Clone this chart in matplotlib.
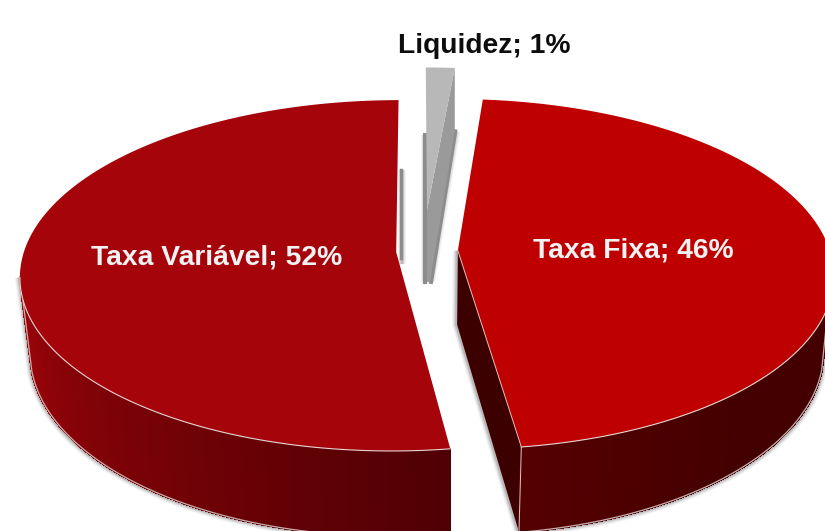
import numpy as np
import matplotlib
matplotlib.use("Agg")
import matplotlib.pyplot as plt
from matplotlib.colors import to_rgb

labels = ["Taxa Fixa", "Taxa Variável", "Liquidez"]
shown_pct = [46, 52, 1]
values = [46.4, 52.1, 1.45]
explode = [0.083, 0.083, 0.245]
start_angle = 5.0
top_colors = ["#bf0000", "#a5040a", "#b8b8b8"]

# perspective of the disc, in pixels
cx, cy = 427, 251
R, Rv, k = 372, 172, 0.134
depth = 74
shrink = 0.975

plt.rcParams["font.family"] = ["Liberation Sans", "DejaVu Sans"]


def project(u, v):
    w = 1 + k * v
    return cx + R * u / w, cy - Rv * v / w


def bottom(u, v):
    x, y = project(u, v)
    return cx + (x - cx) * shrink, y + depth / (1 + k * v)


def arc(t, du, dv):
    return du + np.sin(np.radians(t)), dv + np.cos(np.radians(t))


def soft(ax, xs, ys, z):
    for lw, al in [(6, 0.05), (4.5, 0.07), (3, 0.1), (1.6, 0.16)]:
        ax.plot(xs, ys, color="#303030", lw=lw, alpha=al, zorder=z, solid_capstyle="butt")


def shade(t, c0, c1):
    c0, c1 = np.array(to_rgb(c0)), np.array(to_rgb(c1))
    return tuple(c0 + (c1 - c0) * t)


def quads(ax, rx, ry, brx, bry, cols, z):
    for i in range(len(rx) - 1):
        ax.fill([rx[i], rx[i + 1], brx[i + 1], brx[i]],
                [ry[i], ry[i + 1], bry[i + 1], bry[i]],
                color=cols[i], lw=1, ec=cols[i], antialiased=False, zorder=z)


def side(ax, t, t_end, du, dv, cols, z):
    # outer wall of a slice, closed off with a straight silhouette edge
    rx, ry = project(*arc(t, du, dv))
    brx, bry = bottom(*arc(t, du, dv))
    tx, ty = project(*arc(np.linspace(t[-1], t_end, 10), du, dv))
    sx = np.r_[brx, tx[-1]]
    sy = np.r_[bry, ty[-1]]
    soft(ax, sx + np.sign(sx[-1] - cx), sy + 1, z - 1)
    quads(ax, rx, ry, brx, bry, cols, z)
    ax.fill(np.r_[tx, brx[-1]], np.r_[ty, bry[-1]], color=cols[-1], lw=0.5, ec=cols[-1], zorder=z)
    ax.plot(sx, sy, color="#c8b0b0", lw=0.9, zorder=z + 0.5)


fig = plt.figure(figsize=(8.25, 5.31), dpi=100)
ax = fig.add_axes([0, 0, 1, 1])
ax.set_xlim(0, 825)
ax.set_ylim(531, 0)
ax.axis("off")

fracs = np.array(values) / sum(values) * 360
a0 = start_angle
spans = []
for f in fracs:
    spans.append((a0, a0 + f))
    a0 += f

offs = []
for (a1, a2), d in zip(spans, explode):
    m = np.radians((a1 + a2) / 2)
    offs.append((d * np.sin(m), d * np.cos(m)))
offs[2] = (0, explode[2])

# Liquidez, furthest back
a1, a2 = spans[2]
du, dv = offs[2]
t = np.linspace(a1, a2, 12)
ax_pts = project(du, dv)
bx, by = bottom(du, dv)
rx, ry = project(*arc(t, du, dv))
brx, bry = bottom(*arc(t, du, dv))
soft(ax, [bx - 2, bx - 2], [ry[0] + 68, by], 1)
soft(ax, [brx[-1] + 2, bx + 4], [bry[-1], by], 1)
ax.plot([bx - 2, bx - 2], [ry[0] + 68, by], color="#8c8c8c", lw=3, zorder=1.5)
ax.plot([brx[-1] + 1, bx + 4], [bry[-1], by], color="#8c8c8c", lw=3, zorder=1.5)
ax.fill([rx[-1], rx[-1], bx + 3, bx, ax_pts[0]],
        [ry[-1], bry[-1], by, by, ax_pts[1]], color="#9a9a9a", lw=0, zorder=2)
ax.fill(np.r_[ax_pts[0], rx], np.r_[ax_pts[1], ry], color=top_colors[2], lw=0, zorder=3)

# Taxa Variavel
a1, a2 = spans[1]
du, dv = offs[1]
ax0 = project(du, dv)
ex, ey = project(*arc(a2, du, dv))
soft(ax, [ex + 3, ex + 3], [ey + 70, ax0[1] + 12], 3)
ax.plot([ex + 2, ex + 2], [ey + 70, ax0[1] + 6], color="#8c8c8c", lw=2.5, zorder=3)
t = np.linspace(a1, 256, 120)
cols = [shade((x - a1) / (256 - a1), "#4f0004", "#9a0409") for x in t]
side(ax, t, 262, du, dv, cols, 5)
t = np.linspace(a1, a2, 240)
rx, ry = project(*arc(t, du, dv))
ax.fill(np.r_[ax0[0], rx], np.r_[ax0[1], ry], color=top_colors[1], lw=0, zorder=7)
n = t < 262
ax.plot(rx[n], ry[n], color="#e6d6d6", lw=0.8, zorder=8)

# Taxa Fixa
a1, a2 = spans[0]
du, dv = offs[0]
ax0 = project(du, dv)
bx, by = bottom(du, dv)
ecx, ecy = project(*arc(a2, du, dv))
ebx, eby = bottom(*arc(a2, du, dv))
soft(ax, [ax0[0] - 1, bx - 1, ebx - 1], [ax0[1], by, eby], 9)
ax.fill([ax0[0], bx, ebx, ecx], [ax0[1], by, eby, ecy], color="#3d0000", lw=0, zorder=10)
t = np.linspace(a2, 104, 120)
cols = [shade(min((a2 - x) / (a2 - 104) * 2, 1), "#550000", "#440000") for x in t]
side(ax, t, 94, du, dv, cols, 11)
ax.plot([ecx, ebx], [ecy, eby], color="#d8c8c8", lw=0.7, zorder=12)
t = np.linspace(a1, a2, 240)
rx, ry = project(*arc(t, du, dv))
ax.fill(np.r_[ax0[0], rx], np.r_[ax0[1], ry], color=top_colors[0], lw=0, zorder=13)
n = t > 98
ax.plot(rx[n], ry[n], color="#e6d6d6", lw=0.8, zorder=14)
ax.plot([ax0[0], ecx], [ax0[1], ecy], color="#d8b8b8", lw=0.7, zorder=14)

ax.text(633, 250.5, f"{labels[0]}; {shown_pct[0]}%", color="#f2f2f2", fontsize=20.3,
        fontweight="bold", ha="center", va="center", zorder=20)
ax.text(217, 257.5, f"{labels[1]}; {shown_pct[1]}%", color="#f2f2f2", fontsize=20.3,
        fontweight="bold", ha="center", va="center", zorder=20)
ax.text(484, 46, f"{labels[2]}; {shown_pct[2]}%", color="#0d0d0d", fontsize=20.3,
        fontweight="bold", ha="center", va="center", zorder=20)

fig.savefig("out.png", dpi=100)
